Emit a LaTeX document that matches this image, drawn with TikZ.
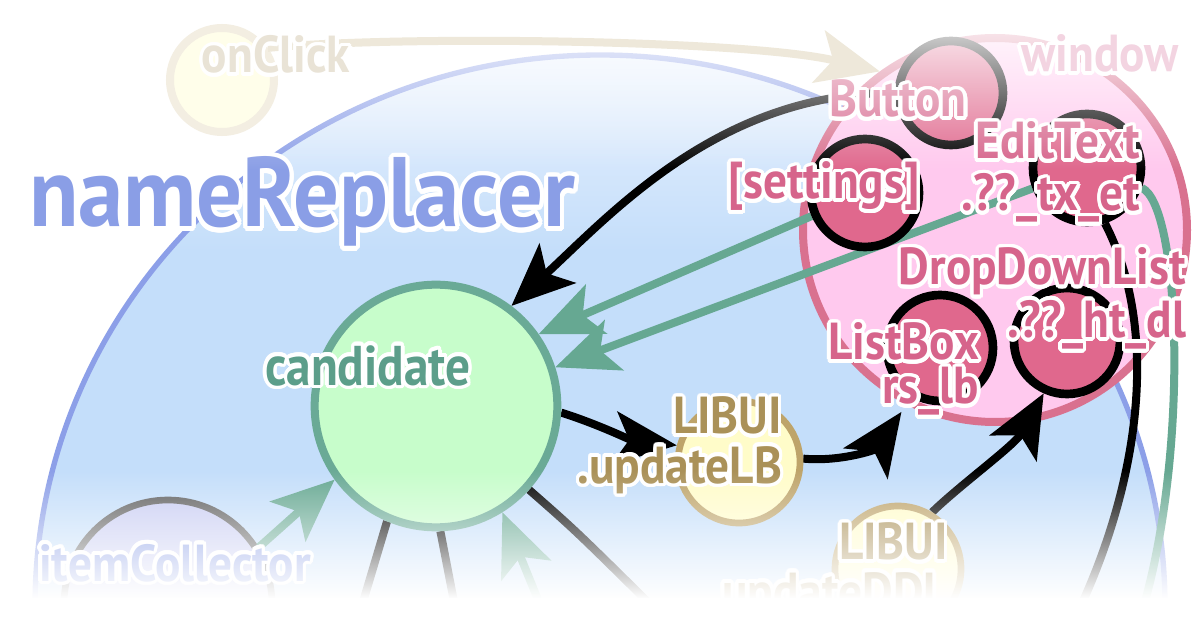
\documentclass[tikz,border=0pt]{standalone}
\usepackage{fontspec}
\setmainfont{PT Sans}
\usepackage[copies]{contour}
\contourlength{2.8pt}
\contournumber{28}
\usetikzlibrary{arrows.meta,fadings}
\definecolor{bluefill}{HTML}{C4DEFA}
\definecolor{bluetop}{HTML}{EAF2FE}
\definecolor{blueline}{HTML}{8C9FE8}
\definecolor{nrblue}{HTML}{8A9EE6}
\definecolor{candfill}{HTML}{C7FDCB}
\definecolor{candline}{HTML}{6AAA96}
\definecolor{candtext}{HTML}{5C9E8A}
\definecolor{tealc}{HTML}{66A892}
\definecolor{winfill}{HTML}{FFC9EE}
\definecolor{winline}{HTML}{D9718F}
\definecolor{pinkfill}{HTML}{E0688D}
\definecolor{pinktext}{HTML}{D6648B}
\definecolor{lbfill}{HTML}{FFFCC9}
\definecolor{lbline}{HTML}{BEA46A}
\definecolor{lbtext}{HTML}{AA9158}
\definecolor{itemfill}{HTML}{C9CDF3}
\definecolor{itemline}{HTML}{5E5E5E}
\definecolor{beigec}{HTML}{EEE8DA}
\definecolor{onctext}{HTML}{E9E3D6}
\definecolor{oncfill}{HTML}{FFFEEA}
\definecolor{oncline}{HTML}{F3EEE2}
\definecolor{wintext}{HTML}{F3D4E1}
\tikzfading[name=fadeS, top color=transparent!100, bottom color=transparent!0]
\tikzfading[name=fadeN, top color=transparent!0, bottom color=transparent!100]
\pgfdeclarelayer{back}
\pgfdeclarelayer{mid}
\pgfdeclarelayer{front}
\pgfdeclarelayer{fade}
\pgfsetlayers{back,mid,main,front,fade}
\newcommand\sx{0.91}
\newcommand\cw[1]{\scalebox{\sx}[1]{\contour{white}{#1}}}
\newcommand\lf{\bfseries\fontsize{39}{37}\selectfont}
\begin{document}
\begin{tikzpicture}[x=0.75pt,y=-0.75pt,
  blob/.style={circle, inner sep=0pt, minimum size=#1},
  pinkc/.style={blob=#1, draw=black, line width=6.5pt, fill=pinkfill},
  lbc/.style={blob=#1, draw=lbline, line width=5pt, fill=lbfill},
  lab/.style={inner sep=0pt, outer sep=0pt, align=right, font=\lf},
  tipstyle/.style={-{Stealth[length=47pt,width=40pt,inset=11pt]}},
  blackarr/.style={draw=black, line width=6pt, tipstyle},
  tealarr/.style={draw=tealc, line width=6pt, tipstyle},
  beigearr/.style={draw=beigec, line width=6pt, tipstyle},
  blackline/.style={draw=black, line width=6pt},
  tealline/.style={draw=tealc, line width=6pt}]
\useasboundingbox (0,0) rectangle (1200,627);
\begin{pgfonlayer}{back}
  \fill[white] (0,0) rectangle (1200,627);
  \begin{scope}
    \clip (600,607) ellipse [x radius=565, y radius=552];
    \fill[bluefill] (0,250) rectangle (1200,627);
    \shade[top color=bluetop, bottom color=bluefill] (0,50) rectangle (1200,251);
  \end{scope}
  \draw[blueline, line width=4pt] (600,607) ellipse [x radius=565, y radius=552];
  \node[blob=288pt, draw=winline, line width=6pt, fill=winfill] (win) at (995,230) {};
  \node[blob=156pt, draw=itemline, line width=5pt, fill=itemfill] (item) at (168,604) {};
\end{pgfonlayer}
% circles
\node[blob=182pt, draw=candline, line width=6pt, fill=candfill] (cand) at (436,406) {};
\node[pinkc=78pt] (btn) at (951,93) {};
\node[pinkc=81pt] (sett) at (865,193) {};
\node[pinkc=81pt] (edit) at (1087,168) {};
\node[pinkc=79.5pt] (ddl) at (1067,341) {};
\node[pinkc=79.5pt] (lbox) at (940,348) {};
\node[lbc=91.5pt] (lbui) at (739,462) {};
\node[lbc=94.5pt] (lbui2) at (898,569) {};
\coordinate (eb) at (1078,612);
\coordinate (tb) at (1142,612);
\coordinate (g1) at (360,612);
\coordinate (g2) at (456,612);
\coordinate (g3) at (658,612);
\coordinate (t3) at (543,612);
\begin{pgfonlayer}{mid}
  \draw[blackarr] (btn.west) .. controls (720,92) and (610,215) .. (cand.53);
  \draw[tealarr] (sett) -- (cand.35);
  \draw[tealarr] (edit) -- (cand.18);
  \draw[blackarr] (cand.-3) .. controls (600,425) and (630,440) .. (lbui.165);
  \draw[blackarr, shorten >=13pt] (lbui.3) .. controls (840,462) and (875,450) .. (lbox.240);
  \draw[blackarr] (lbui2.59) .. controls (960,485) and (1015,445) .. (ddl.246);
  \draw[blackline] (edit.-72) .. controls (1160,330) and (1140,480) .. (eb);
  \draw[tealline] (edit.-20) .. controls (1180,205) and (1190,450) .. (tb);
  \draw[tealarr] (item.32) -- (cand.216);
  \draw[blackline] (cand.-113) -- (g1);
  \draw[blackline] (cand.-88) -- (g2);
  \draw[blackline] (cand.-42) .. controls (575,530) .. (g3);
  \draw[tealarr] (t3) -- (cand.-58);
\end{pgfonlayer}
\begin{pgfonlayer}{front}
  \node[lab, text=nrblue, font=\bfseries\fontsize{74}{80}\selectfont, anchor=base west] (tnr) at (29,227) {\contourlength{3.4pt}\renewcommand\sx{0.92}\cw{nameReplacer}};
  \node[lab, text=candtext, font=\bfseries\fontsize{42}{48}\selectfont, anchor=base] (tcand) at (368,385) {\renewcommand\sx{0.88}\cw{candidate}};
  \node[lab, text=pinktext, anchor=base] (tbtn) at (898,117) {\cw{Button}};
  \node[lab, text=pinktext, anchor=base] (tsett) at (824,199) {\cw{[settings]}};
  \node[lab, text=pinktext, anchor=north east] (tedit) at (1140,122) {\cw{EditText}\\[2pt]\cw{.??\_tx\_et}};
  \node[lab, text=pinktext, anchor=north east] (tddl) at (1186,248) {\cw{DropDownList}\\\cw{.??\_ht\_dl}};
  \node[lab, text=pinktext, anchor=north east] (tlbox) at (979,323) {\cw{ListBox}\\[-4pt]\cw{rs\_lb}};
  \node[lab, text=lbtext, anchor=north east] (tlbui) at (782,397) {\cw{LIBUI}\\\cw{.updateLB}};
  \node[lab, text=lbtext, anchor=north east] (tlbui2) at (948,523) {\cw{LIBUI}\\\cw{.updateDDL}};
  \node[lab, text=nrblue, anchor=base] (titem) at (175,581) {\cw{itemCollector}};
\end{pgfonlayer}
\begin{pgfonlayer}{fade}
  \fill[white, path fading=fadeN] (0,0) rectangle (1200,170);
  \node[blob=78pt, draw=oncline, line width=6pt, fill=oncfill] (onc) at (222,80) {};
  \draw[beigearr] (onc.35) .. controls (400,35) and (750,40) .. (win.126);
  \node[lab, text=onctext, anchor=base] (tonc) at (276,73) {\cw{onClick}};
  \node[lab, text=wintext, anchor=base] (twin) at (1100,72) {\cw{window}};
  \fill[white, path fading=fadeS] (0,470) rectangle (1200,599);
  \fill[white] (0,598) rectangle (1200,627);
\end{pgfonlayer}
\end{tikzpicture}
\end{document}
